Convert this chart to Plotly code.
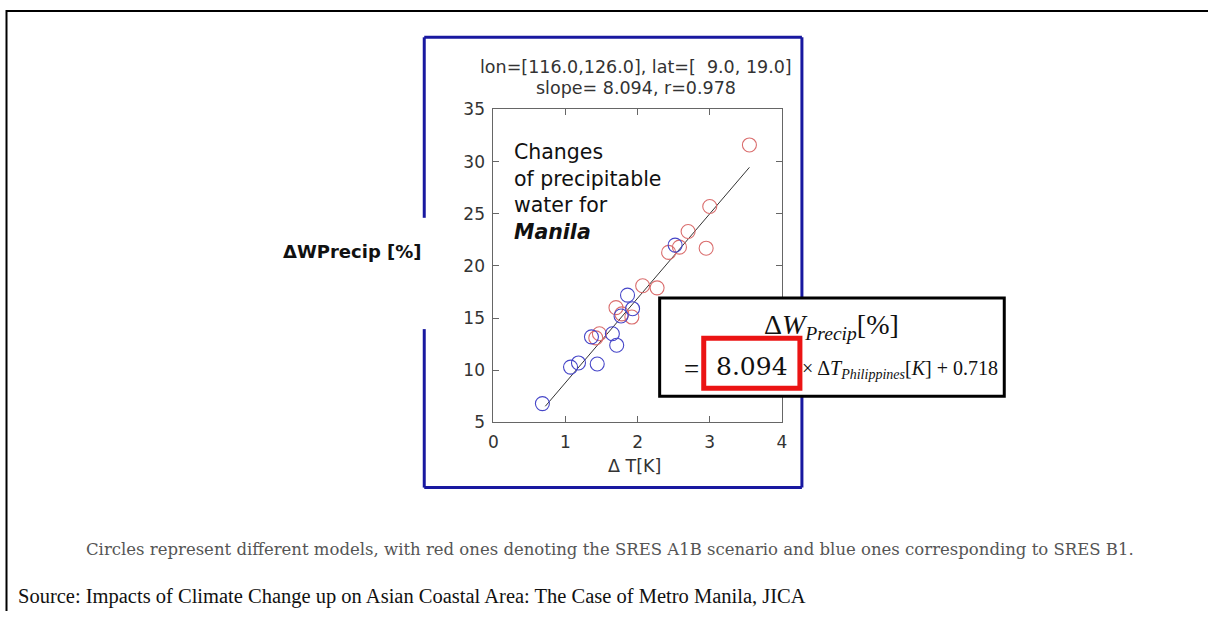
import plotly.graph_objects as go

W, H = 1213, 621

# ---- data ----
a1b_dT = [3.55, 3.00, 2.70, 2.95, 2.58, 2.43, 2.07, 2.27, 1.70, 1.78, 1.92, 1.47, 1.42]
a1b_dW = [31.6, 25.7, 23.3, 21.7, 21.8, 21.3, 18.1, 17.9, 16.0, 15.4, 15.1, 13.5, 13.1]
b1_dT = [2.52, 1.86, 1.93, 1.77, 1.65, 1.36, 1.71, 1.44, 1.18, 1.07, 0.68]
b1_dW = [22.0, 17.2, 15.9, 15.2, 13.5, 13.2, 12.4, 10.6, 10.7, 10.3, 6.8]
slope = 8.094
intercept = 0.718
fit_dT_range = [0.72, 3.55]
x_ticks = [0, 1, 2, 3, 4]
y_ticks = [5, 10, 15, 20, 25, 30, 35]

fit_dW = [slope * t + intercept for t in fit_dT_range]

# the photographed page comes out slightly shifted/scaled; positions below are
# target pixel positions and these helpers compensate for that.
SX, OX = 0.99, 3.5
SY, OY = 0.965, 9.8


def px(x):
    return max(0.0, min(1.0, ((x - OX) / SX) / W))


def py(y):
    return max(0.0, min(1.0, 1 - ((y - OY) / SY) / H))


fig = go.Figure()
fig.add_trace(go.Scatter(x=fit_dT_range, y=fit_dW, mode="lines",
                         line=dict(color="#333333", width=1), showlegend=False,
                         hoverinfo="skip"))
fig.add_trace(go.Scatter(x=a1b_dT, y=a1b_dW, mode="markers", name="SRES A1B",
                         marker=dict(symbol="circle-open", size=14,
                                     color="rgb(218,110,110)", line=dict(width=1.1)),
                         showlegend=False))
fig.add_trace(go.Scatter(x=b1_dT, y=b1_dW, mode="markers", name="SRES B1",
                         marker=dict(symbol="circle-open", size=14,
                                     color="rgb(70,70,200)", line=dict(width=1.1)),
                         showlegend=False))

axis_common = dict(showline=True, linecolor="#666666", linewidth=1, mirror="ticks",
                   ticks="inside", ticklen=6, tickcolor="#666666", showgrid=False,
                   zeroline=False, ticklabelstandoff=4,
                   tickfont=dict(family="DejaVu Sans", size=17, color="#333333"))

fig.update_layout(
    width=W, height=H,
    margin=dict(l=0, r=0, t=0, b=0),
    paper_bgcolor="white", plot_bgcolor="white",
    xaxis=dict(domain=[px(491), px(779)], range=[0, 4], tickvals=x_ticks, **axis_common),
    yaxis=dict(domain=[py(421), py(109)], range=[5, 35], tickvals=y_ticks, **axis_common),
)

shapes = []
# outer page frame (top and left lines)
shapes.append(dict(type="line", xref="paper", yref="paper", x0=px(5), x1=1,
                   y0=py(7) - 1.0 / H, y1=py(7) - 1.0 / H,
                   line=dict(color="black", width=2)))
shapes.append(dict(type="line", xref="paper", yref="paper", x0=px(5), x1=px(5),
                   y0=py(7), y1=0, line=dict(color="black", width=2)))
# blue frame around the figure image
blue = "rgb(24,24,160)"
for (x0, y0, x1, y1) in [(422, 37, 799, 37), (422, 486, 799, 486), (799, 37, 799, 486),
                         (422, 37, 422, 217), (422, 328, 422, 486)]:
    shapes.append(dict(type="line", xref="paper", yref="paper", x0=px(x0), x1=px(x1),
                       y0=py(y0), y1=py(y1), line=dict(color=blue, width=3)))
# equation box
shapes.append(dict(type="rect", xref="paper", yref="paper", x0=px(657), x1=px(1001),
                   y0=py(395), y1=py(297), line=dict(color="black", width=3),
                   fillcolor="white", layer="above"))
shapes.append(dict(type="rect", xref="paper", yref="paper", x0=px(701), x1=px(797),
                   y0=py(387), y1=py(337), line=dict(color="rgb(235,20,20)", width=5),
                   layer="above"))
fig.update_layout(shapes=shapes)

ann = []


def text(x, y, s, size, family="DejaVu Sans", color="#222222", xanchor="center",
         yanchor="middle", align="center"):
    ann.append(dict(x=px(x), y=py(y), xref="paper", yref="paper", text=s, showarrow=False,
                    xanchor=xanchor, yanchor=yanchor, align=align,
                    font=dict(family=family, size=size, color=color)))


text(633, 67, "lon=[116.0,126.0], lat=[  9.0, 19.0]", 17.5, color="#333333")
text(633, 88, "slope= 8.094, r=0.978", 17.5, color="#333333")
text(632, 464, "Δ T[K]", 17.5, color="#333333")
text(350, 251, "<b>ΔWPrecip [%]</b>", 18, color="#111111")
text(510, 191, "Changes<br>of precipitable<br>water for<br><b><i>Manila</i></b>", 20.5,
     color="#111111", xanchor="left", align="left")
# equation
text(829, 325, "Δ<i>W</i><sub><i>Precip</i></sub>[%]", 28, family="Liberation Serif",
     color="#111111")
text(698, 368, "=", 27, family="Liberation Serif", color="#111111", xanchor="right")
text(749, 365, "8.094", 25, family="DejaVu Serif", color="#111111")
text(797, 368, "× Δ<i>T</i><sub><i>Philippines</i></sub>[<i>K</i>] + 0.718", 20,
     family="Liberation Serif", color="#111111", xanchor="left")
# captions
text(607, 548, "Circles represent different models, with red ones denoting the SRES A1B "
               "scenario and blue ones corresponding to SRES B1.", 16.5,
     family="DejaVu Serif", color="#555555")
text(14, 595, "Source: Impacts of Climate Change up on Asian Coastal Area: The Case of "
              "Metro Manila, JICA", 20.5, family="Liberation Serif", color="#111111",
     xanchor="left")
fig.update_layout(annotations=ann)

fig.write_html("out.html", config={"displayModeBar": False},
               post_script="document.body.style.margin='0';document.body.style.padding='0';"
                           "document.body.style.overflow='hidden';")
